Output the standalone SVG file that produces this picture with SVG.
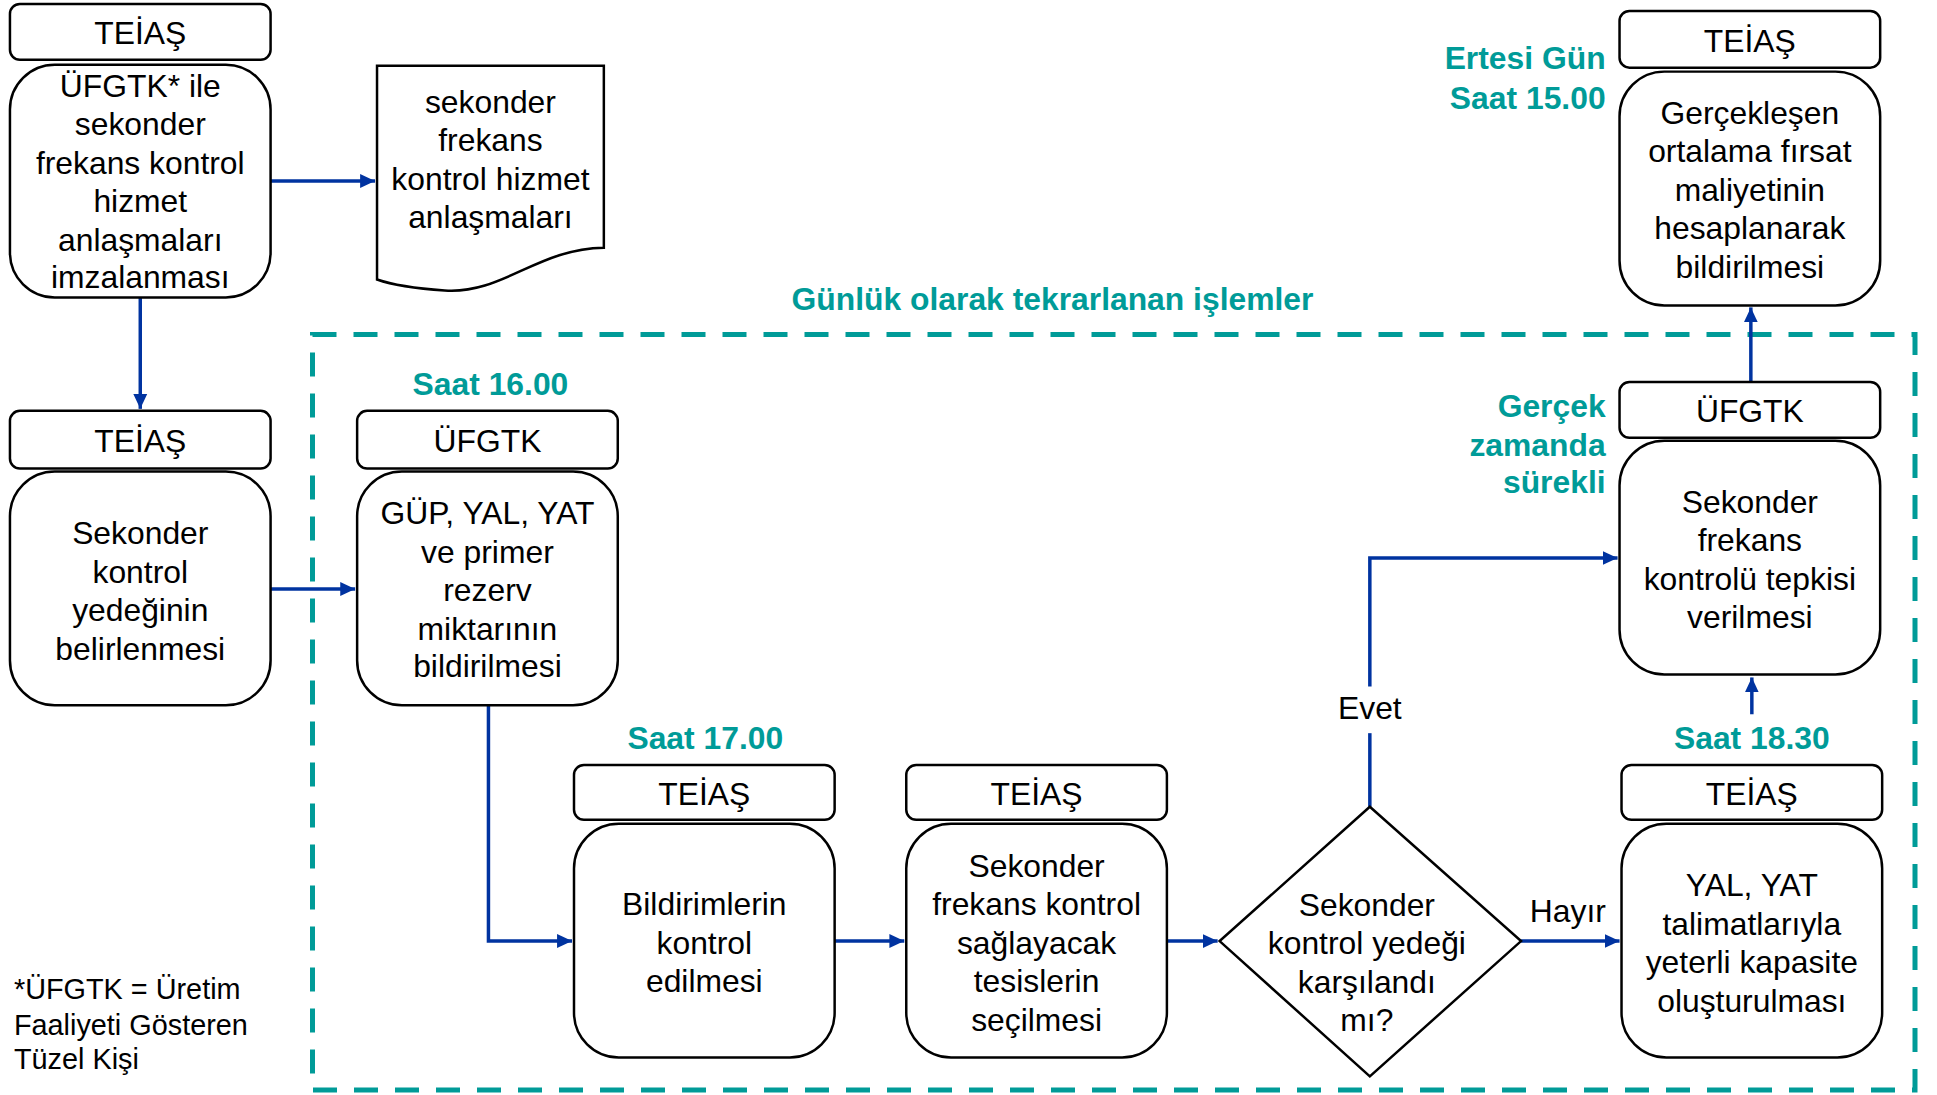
<svg xmlns="http://www.w3.org/2000/svg" width="1937" height="1095" viewBox="0 0 1937 1095">
<defs>
<marker id="ah" markerUnits="userSpaceOnUse" markerWidth="16" markerHeight="16" refX="15" refY="8" orient="auto"><path d="M0,1 L15,8 L0,15 z" fill="#0033A0"/></marker>
<style>
.hdr{fill:#fff;stroke:#000;stroke-width:2.5}
.box{fill:#fff;stroke:#000;stroke-width:2.5}
.t{font-family:"Liberation Sans",Arial,sans-serif;font-size:32px;fill:#000;text-anchor:middle}
.g{font-family:"Liberation Sans",Arial,sans-serif;font-size:32px;font-weight:bold;fill:#009B98;text-anchor:middle}
.gr{text-anchor:end}
.fn{font-family:"Liberation Sans",Arial,sans-serif;font-size:29px;fill:#000}
.c{fill:none;stroke:#0033A0;stroke-width:3.5}
</style>
</defs>
<rect id="loop" x="312.5" y="334.5" width="1602.5" height="755.5" fill="none" stroke="#009B98" stroke-width="5" stroke-dasharray="24 17"/>
<g id="diagram" transform="scale(0.9948)">
<text class="g" x="1058" y="312">Günlük olarak tekrarlanan işlemler</text>
<g id="connectors">
<path class="c" d="M272,182 H377" marker-end="url(#ah)"/>
<path class="c" d="M141,299 V411" marker-end="url(#ah)"/>
<path class="c" d="M272,592 H357" marker-end="url(#ah)"/>
<path class="c" d="M491,709 V946 H575" marker-end="url(#ah)"/>
<path class="c" d="M839,946 H909" marker-end="url(#ah)"/>
<path class="c" d="M1173,946 H1224" marker-end="url(#ah)"/>
<path class="c" d="M1377,811 V737"/>
<path class="c" d="M1377,690 V561 H1626" marker-end="url(#ah)"/>
<path class="c" d="M1529,946 H1628" marker-end="url(#ah)"/>
<path class="c" d="M1761,718 V681" marker-end="url(#ah)"/>
<path class="c" d="M1760,384 V309" marker-end="url(#ah)"/>
<text class="t" x="1377" y="723">Evet</text>
<text class="t" x="1576" y="927">Hayır</text>
</g>
<g id="n1">
<rect class="hdr" x="10" y="4" width="262" height="56" rx="10"/>
<text class="t" x="141" y="44">TEİAŞ</text>
<rect class="box" x="10" y="65" width="262" height="234" rx="45"/>
<text class="t" x="141" y="98">ÜFGTK* ile</text>
<text class="t" x="141" y="136">sekonder</text>
<text class="t" x="141" y="175">frekans kontrol</text>
<text class="t" x="141" y="213">hizmet</text>
<text class="t" x="141" y="252">anlaşmaları</text>
<text class="t" x="141" y="290">imzalanması</text>
</g>
<g id="doc">
<path class="box" d="M379,66 H607 V249 C540,250 505,296 447,292 C418,290 396,287 379,281 Z"/>
<text class="t" x="493" y="114">sekonder</text>
<text class="t" x="493" y="152">frekans</text>
<text class="t" x="493" y="191">kontrol hizmet</text>
<text class="t" x="493" y="229">anlaşmaları</text>
</g>
<g id="n2">
<rect class="hdr" x="10" y="413" width="262" height="58" rx="10"/>
<text class="t" x="141" y="454">TEİAŞ</text>
<rect class="box" x="10" y="474" width="262" height="235" rx="45"/>
<text class="t" x="141" y="547">Sekonder</text>
<text class="t" x="141" y="586">kontrol</text>
<text class="t" x="141" y="624">yedeğinin</text>
<text class="t" x="141" y="663">belirlenmesi</text>
</g>
<g id="n3">
<text class="g" x="493" y="397">Saat 16.00</text>
<rect class="hdr" x="359" y="413" width="262" height="58" rx="10"/>
<text class="t" x="490" y="454">ÜFGTK</text>
<rect class="box" x="359" y="474" width="262" height="235" rx="45"/>
<text class="t" x="490" y="527">GÜP, YAL, YAT</text>
<text class="t" x="490" y="566">ve primer</text>
<text class="t" x="490" y="604">rezerv</text>
<text class="t" x="490" y="643">miktarının</text>
<text class="t" x="490" y="681">bildirilmesi</text>
</g>
<g id="n4">
<text class="g" x="709" y="753">Saat 17.00</text>
<rect class="hdr" x="577" y="769" width="262" height="55" rx="10"/>
<text class="t" x="708" y="809">TEİAŞ</text>
<rect class="box" x="577" y="828" width="262" height="235" rx="45"/>
<text class="t" x="708" y="920">Bildirimlerin</text>
<text class="t" x="708" y="959">kontrol</text>
<text class="t" x="708" y="997">edilmesi</text>
</g>
<g id="n5">
<rect class="hdr" x="911" y="769" width="262" height="55" rx="10"/>
<text class="t" x="1042" y="809">TEİAŞ</text>
<rect class="box" x="911" y="828" width="262" height="235" rx="45"/>
<text class="t" x="1042" y="882">Sekonder</text>
<text class="t" x="1042" y="920">frekans kontrol</text>
<text class="t" x="1042" y="959">sağlayacak</text>
<text class="t" x="1042" y="997">tesislerin</text>
<text class="t" x="1042" y="1036">seçilmesi</text>
</g>
<g id="decision">
<path class="box" d="M1377,811 L1529,946 L1377,1082 L1226,946 Z"/>
<text class="t" x="1374" y="921">Sekonder</text>
<text class="t" x="1374" y="959">kontrol yedeği</text>
<text class="t" x="1374" y="998">karşılandı</text>
<text class="t" x="1374" y="1036">mı?</text>
</g>
<g id="n6">
<text class="g" x="1761" y="753">Saat 18.30</text>
<rect class="hdr" x="1630" y="769" width="262" height="55" rx="10"/>
<text class="t" x="1761" y="809">TEİAŞ</text>
<rect class="box" x="1630" y="828" width="262" height="235" rx="45"/>
<text class="t" x="1761" y="901">YAL, YAT</text>
<text class="t" x="1761" y="940">talimatlarıyla</text>
<text class="t" x="1761" y="978">yeterli kapasite</text>
<text class="t" x="1761" y="1017">oluşturulması</text>
</g>
<g id="n7">
<text class="g gr" x="1614" y="419">Gerçek</text>
<text class="g gr" x="1614" y="458">zamanda</text>
<text class="g gr" x="1614" y="496">sürekli</text>
<rect class="hdr" x="1628" y="384" width="262" height="56" rx="10"/>
<text class="t" x="1759" y="424">ÜFGTK</text>
<rect class="box" x="1628" y="443" width="262" height="235" rx="45"/>
<text class="t" x="1759" y="516">Sekonder</text>
<text class="t" x="1759" y="554">frekans</text>
<text class="t" x="1759" y="593">kontrolü tepkisi</text>
<text class="t" x="1759" y="631">verilmesi</text>
</g>
<g id="n8">
<text class="g gr" x="1614" y="69">Ertesi Gün</text>
<text class="g gr" x="1614" y="110">Saat 15.00</text>
<rect class="hdr" x="1628" y="11" width="262" height="57" rx="10"/>
<text class="t" x="1759" y="52">TEİAŞ</text>
<rect class="box" x="1628" y="72" width="262" height="235" rx="45"/>
<text class="t" x="1759" y="125">Gerçekleşen</text>
<text class="t" x="1759" y="163">ortalama fırsat</text>
<text class="t" x="1759" y="202">maliyetinin</text>
<text class="t" x="1759" y="240">hesaplanarak</text>
<text class="t" x="1759" y="279">bildirilmesi</text>
</g>
<g id="footnote">
<text class="fn" x="14" y="1004">*ÜFGTK = Üretim</text>
<text class="fn" x="14" y="1040">Faaliyeti Gösteren</text>
<text class="fn" x="14" y="1075">Tüzel Kişi</text>
</g>
</g>
</svg>
